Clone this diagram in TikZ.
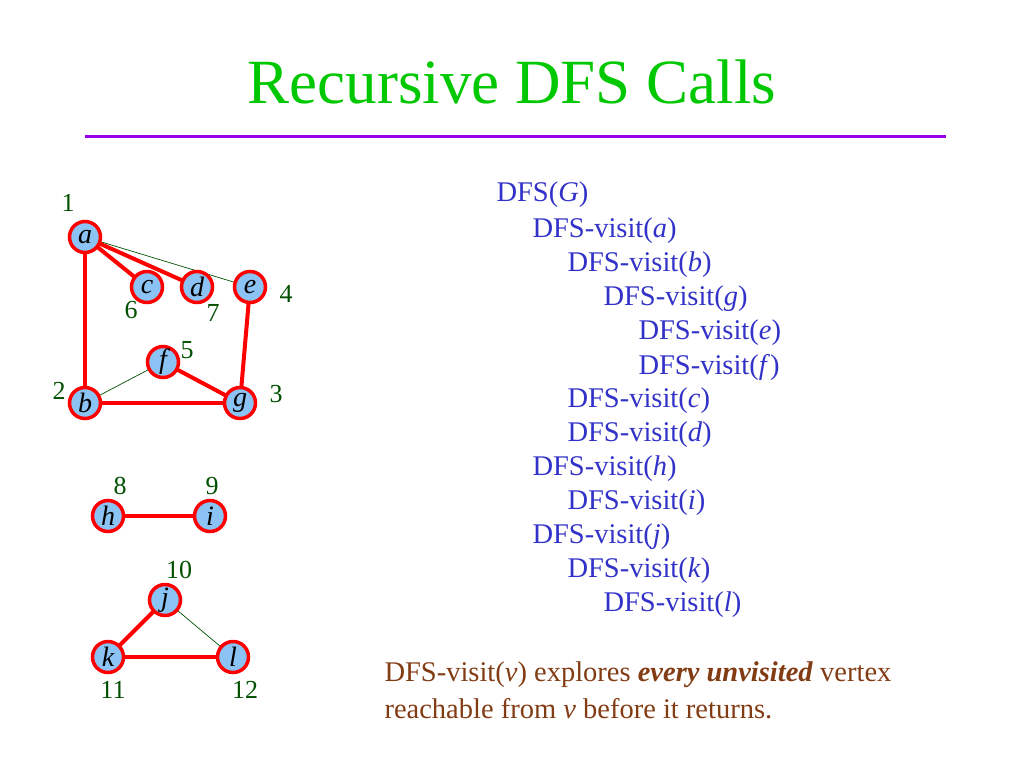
\documentclass[tikz,border=0pt]{standalone}
\usepackage{fontspec}
\setmainfont{Liberation Serif}
\usetikzlibrary{positioning, backgrounds}
\definecolor{titlegreen}{RGB}{0,200,0}
\definecolor{rulepurple}{RGB}{153,0,230}
\definecolor{vtxfill}{RGB}{140,195,245}
\definecolor{numgreen}{RGB}{0,80,0}
\definecolor{callblue}{RGB}{50,50,200}
\definecolor{notebrown}{RGB}{130,60,20}

\begin{document}
\begin{tikzpicture}[x=1pt, y=-1pt,
            vertexnode/.style={circle, draw=red, fill=vtxfill, line width=3.5pt, minimum size=31pt, inner sep=0pt, font=\fontsize{28}{28}\selectfont\itshape},
            treeedge/.style={draw=red, line width=4pt},
            backedge/.style={draw=numgreen, line width=0.7pt},
            numlabel/.style={text=numgreen, font=\fontsize{26}{26}\selectfont},
            calltext/.style={anchor=west, text=callblue, font=\fontsize{28.5}{28.5}\selectfont},
            notetext/.style={anchor=west, text=notebrown, font=\fontsize{28.5}{28.5}\selectfont},
            ]
            \useasboundingbox (0,0) rectangle (1024,768);
            \node[text=titlegreen, font=\fontsize{63}{63}\selectfont] (T) at (512,82) {Recursive DFS Calls};
            \coordinate (RL) at (85,136);
            \coordinate (RR) at (946,136);
            \draw[rulepurple, line width=3pt] (RL) -- (RR);

            % graph
            \node[vertexnode] (a) at (85,237) {a};
            \node[vertexnode] (c) at (147,287) {c};
            \node[vertexnode] (d) at (197,287) {d};
            \node[vertexnode] (e) at (250,287) {e};
            \node[vertexnode] (f) at (163,362) {f};
            \node[vertexnode] (b) at (85,403) {b};
            \node[vertexnode] (g) at (240,403) {g};
            \node[vertexnode] (h) at (108,516) {h};
            \node[vertexnode] (i) at (210,516) {i};
            \node[vertexnode] (j) at (165,600) {j};
            \node[vertexnode] (k) at (108,657) {k};
            \node[vertexnode] (l) at (233,657) {l};

            \begin{scope}[on background layer]
            \draw[backedge] (a.center) -- (e.center);
            \draw[backedge] (b.center) -- (f.center);
            \draw[backedge] (j.center) -- (l.center);
            \draw[treeedge] (a.center) -- (b.center);
            \draw[treeedge] (a.center) -- (c.center);
            \draw[treeedge] (a.center) -- (d.center);
            \draw[treeedge] (e.center) -- (g.center);
            \draw[treeedge] (f.center) -- (g.center);
            \draw[treeedge] (b.center) -- (g.center);
            \draw[treeedge] (h.center) -- (i.center);
            \draw[treeedge] (j.center) -- (k.center);
            \draw[treeedge] (k.center) -- (l.center);
            \end{scope}

            \node[numlabel] (n1) at (68,203) {1};
            \node[numlabel] (n2) at (59,391) {2};
            \node[numlabel] (n3) at (276,394) {3};
            \node[numlabel] (n4) at (286,294) {4};
            \node[numlabel] (n5) at (187,350) {5};
            \node[numlabel] (n6) at (131,310) {6};
            \node[numlabel] (n7) at (213,313) {7};
            \node[numlabel] (n8) at (120,486) {8};
            \node[numlabel] (n9) at (212,486) {9};
            \node[numlabel] (n10) at (179,570) {10};
            \node[numlabel] (n11) at (113,690) {11};
            \node[numlabel] (n12) at (245,690) {12};

            % call tree
            \node[calltext] (c1) at (493,195) {DFS(\textit{G})};
            \node[calltext] (c2) at (529,231) {DFS-visit(\textit{a})};
            \node[calltext] (c3) at (564,265) {DFS-visit(\textit{b})};
            \node[calltext] (c4) at (600,299) {DFS-visit(\textit{g})};
            \node[calltext] (c5) at (635,333) {DFS-visit(\textit{e})};
            \node[calltext] (c6) at (635,367) {DFS-visit(\textit{f})};
            \node[calltext] (c7) at (564,401) {DFS-visit(\textit{c})};
            \node[calltext] (c8) at (564,435) {DFS-visit(\textit{d})};
            \node[calltext] (c9) at (529,469) {DFS-visit(\textit{h})};
            \node[calltext] (c10) at (564,503) {DFS-visit(\textit{i})};
            \node[calltext] (c11) at (529,537) {DFS-visit(\textit{j})};
            \node[calltext] (c12) at (564,571) {DFS-visit(\textit{k})};
            \node[calltext] (c13) at (600,605) {DFS-visit(\textit{l})};

            \node[notetext] (N1) at (381,675) {DFS-visit(\textit{v}) explores \textbf{\textit{every unvisited}} vertex};
            \node[notetext] (N2) at (381,709) {reachable from \textit{v} before it returns.};
        \end{tikzpicture}
\end{document}
